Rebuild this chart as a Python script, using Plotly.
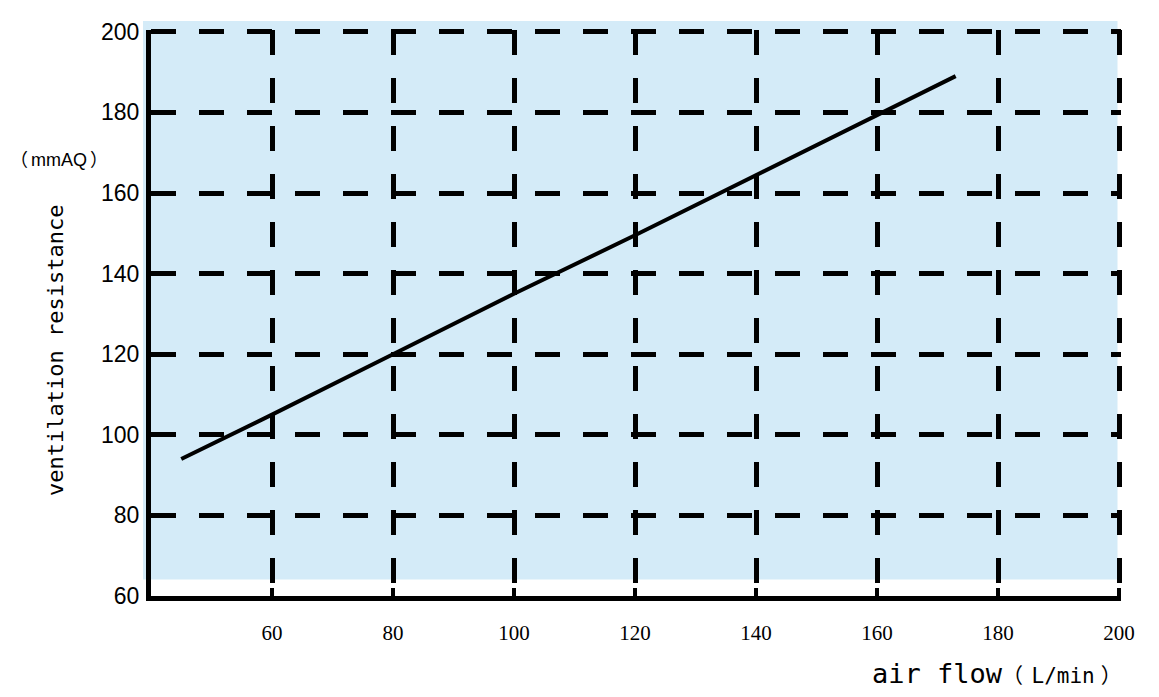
import plotly.graph_objects as go

# data
air_flow = [45, 60, 80, 100, 120, 140, 160, 173]
resistance = [94, 105, 120, 135, 149.5, 164.5, 179.5, 189]

x_ticks = [60, 80, 100, 120, 140, 160, 180, 200]
y_ticks = [60, 80, 100, 120, 140, 160, 180, 200]

x_title = ('air flow<span style="font-size:21px">（</span><span style="font-size:14px"> </span>'
           '<span style="font-size:21px">L/min</span><span style="font-size:10px"> </span>'
           '<span style="font-size:21px">）</span>')
y_title = "ventilation resistance"
y_unit = "（\u2006mmAQ\u2006）"

# geometry (page has an 8px body margin)
OFF = 8
W, H = 1151, 689
L, R, T, B = 143, 38, 22, 101
PW, PH = W - L - R, H - T - B


def px(page_x):
    return (page_x - OFF - L) / PW


def py(page_y):
    return (H - B - (page_y - OFF)) / PH


fig = go.Figure()
fig.add_trace(go.Scatter(x=air_flow, y=resistance, mode="lines",
                         line=dict(color="black", width=4), showlegend=False,
                         cliponaxis=False))

# light blue panel (slightly offset from the axes as in the reference)
fig.add_shape(type="rect", xref="x domain", yref="y domain",
              x0=px(143), x1=px(1117.5), y0=py(579.5), y1=py(21),
              fillcolor="#d4ebf8", line=dict(width=0), layer="below")

grid = dict(showgrid=True, gridcolor="black", gridwidth=4.5, griddash="25px,23px")

fig.update_xaxes(range=[40, 40 + PW / 6.05], tickvals=x_ticks, ticktext=[str(v) for v in x_ticks],
                 showline=True, linecolor="black", linewidth=5,
                 ticks="inside", ticklen=8, tickwidth=4, tickcolor="black",
                 tickfont=dict(family="Liberation Serif", size=21, color="black"),
                 ticklabelstandoff=14, zeroline=False, **grid)
fig.update_yaxes(range=[60, 60 + PH / 4.03], tickvals=y_ticks, ticktext=[str(v) for v in y_ticks],
                 showline=True, linecolor="black", linewidth=5,
                 ticks="", tickfont=dict(family="Liberation Sans", size=23, color="black"),
                 ticklabelstandoff=2, zeroline=False, **grid)

fig.add_annotation(text=y_title, xref="paper", yref="paper", x=px(55), y=py(351),
                   xanchor="center", yanchor="middle", textangle=-90, showarrow=False,
                   font=dict(family="DejaVu Sans Mono", size=22, color="black"))
fig.add_annotation(text=y_unit, xref="paper", yref="paper", x=px(OFF), y=py(160),
                   xanchor="left", yanchor="middle", showarrow=False,
                   font=dict(family="Liberation Sans, Noto Sans CJK SC", size=18, color="black"))
fig.add_annotation(text=x_title, xref="paper", yref="paper", x=px(870), y=py(673),
                   xanchor="left", yanchor="middle", showarrow=False,
                   font=dict(family="DejaVu Sans Mono, Noto Sans CJK SC", size=27, color="black"))

fig.update_layout(width=W, height=H, margin=dict(l=L, r=R, t=T, b=B),
                  plot_bgcolor="rgba(0,0,0,0)", paper_bgcolor="white")

fig.write_html("out.html")
